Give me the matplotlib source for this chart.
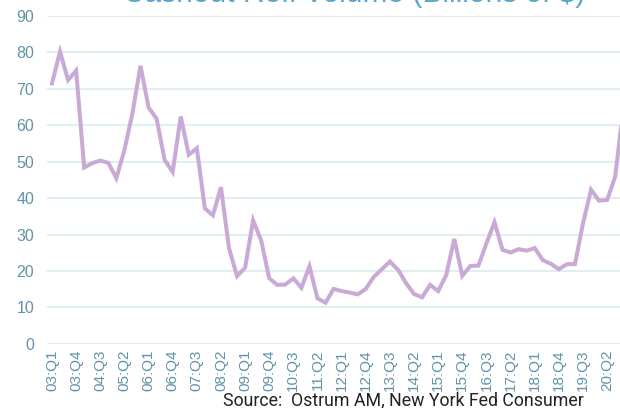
import matplotlib
matplotlib.use("Agg")
import matplotlib.pyplot as plt
import numpy as np

# Data: cashout refi volume (billions of $), quarterly from 03:Q1
values = [71.5, 80.2, 72.4, 75.0, 48.4, 49.6, 50.3, 49.7, 45.5, 53.2,
          63.3, 76.3, 64.9, 61.8, 50.5, 47.2, 62.4, 51.9, 53.7, 37.2,
          35.3, 43.0, 26.3, 18.6, 20.9, 33.9, 28.4, 18.0, 16.2, 16.3,
          18.0, 15.4, 21.3, 12.5, 11.3, 15.1, 14.5, 14.1, 13.6, 15.1,
          18.4, 20.5, 22.6, 20.4, 16.7, 13.7, 12.8, 16.2, 14.5, 18.9,
          28.8, 18.7, 21.4, 21.5, 27.6, 33.4, 25.8, 25.1, 26.0, 25.6,
          26.3, 23.0, 22.0, 20.5, 21.9, 21.9, 33.1, 42.3, 39.3, 39.5,
          45.9, 64.5]
tick_labels = ["03:Q1", "03:Q4", "04:Q3", "05:Q2", "06:Q1", "06:Q4",
               "07:Q3", "08:Q2", "09:Q1", "09:Q4", "10:Q3", "11:Q2",
               "12:Q1", "12:Q4", "13:Q3", "14:Q2", "15:Q1", "15:Q4",
               "16:Q3", "17:Q2", "18:Q1", "18:Q4", "19:Q3", "20:Q2"]
tick_step = 3
y_ticks = [0, 10, 20, 30, 40, 50, 60, 70, 80, 90]
title = "Cashout Refi Volume (Billions of $)"
source = "Source:  Ostrum AM, New York Fed Consumer"

label_color = "#5f93a8"
grid_color = "#dcedf0"
line_color = "#c9aad7"

fig = plt.figure(figsize=(6.2, 4.08), dpi=100)
ax = fig.add_axes([0.0753, 0.157, 0.9247, 0.804])

x = np.arange(len(values))
ax.plot(x, values, color=line_color, lw=2.9, solid_joinstyle="miter", zorder=3)

ax.set_ylim(0, 90)
ax.set_xlim(-0.66, 70.6)
ax.set_yticks(y_ticks)
ax.set_xticks(np.arange(len(tick_labels)) * tick_step)
ax.set_xticklabels(tick_labels, rotation=90, fontsize=11,
                   color=label_color, family="Liberation Sans")
for lab in ax.get_yticklabels():
    lab.set_fontsize(11.5)
    lab.set_color(label_color)
    lab.set_family("Liberation Sans")

ax.grid(axis="y", color=grid_color, lw=1.3)
ax.set_axisbelow(True)
for s in ax.spines.values():
    s.set_visible(False)
ax.tick_params(axis="both", length=0)
ax.tick_params(axis="y", pad=9)
ax.tick_params(axis="x", pad=4)

fig.text(0.571, 1 - 2.5 / 408, title, ha="center", va="baseline",
         fontsize=21.5, color="#5aa6cc", family="Liberation Sans")
fig.text(0.650, 1 - 400 / 408, source, ha="center", va="center",
         fontsize=12.8, color="#222222", family="Roboto")

fig.savefig("out.png", dpi=100)
